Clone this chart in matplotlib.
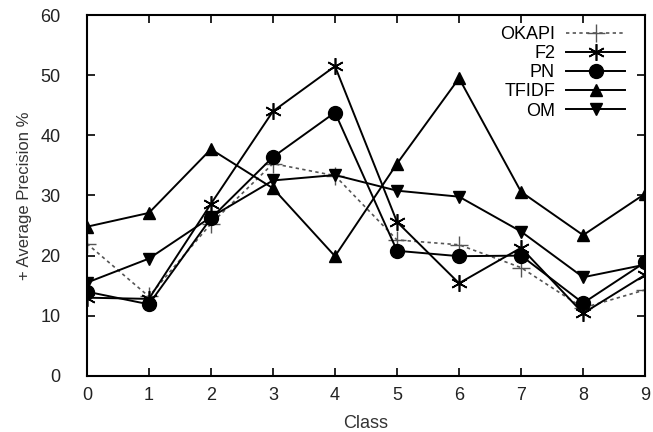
import matplotlib
matplotlib.use("Agg")
import matplotlib.pyplot as plt

plt.rcParams['font.family'] = ['Liberation Sans', 'DejaVu Sans']

classes = list(range(10))
okapi = [22.0, 13.2, 25.3, 35.3, 33.3, 22.6, 21.8, 18.0, 11.3, 14.3]
f2 = [13.0, 12.8, 28.6, 44.0, 51.5, 25.6, 15.4, 21.3, 10.4, 16.8]
pn = [14.0, 11.9, 26.2, 36.4, 43.8, 20.8, 19.9, 20.0, 12.1, 18.9]
tfidf = [24.8, 27.1, 37.7, 31.2, 19.9, 35.3, 49.5, 30.6, 23.4, 30.3]
om = [15.5, 19.5, 26.4, 32.5, 33.4, 30.8, 29.8, 24.0, 16.4, 18.5]

fig, ax = plt.subplots(figsize=(6.53, 4.32), dpi=100)
fig.subplots_adjust(left=0.133, right=0.988, top=0.965, bottom=0.13)

ax.plot(classes, okapi, color='#555555', linestyle=(0, (2, 2)), linewidth=1.2,
        marker='+', markersize=13, markeredgewidth=1.0, label='OKAPI')
ax.plot(classes, f2, color='black', linewidth=1.4,
        marker=(6, 2, 0), markersize=12, markeredgewidth=1.2, label='F2')
ax.plot(classes, pn, color='black', linewidth=1.4,
        marker='o', markersize=10, label='PN')
ax.plot(classes, tfidf, color='black', linewidth=1.4,
        marker='^', markersize=9, label='TFIDF')
ax.plot(classes, om, color='black', linewidth=1.4,
        marker='v', markersize=9, label='OM')

ax.set_xlim(0, 9)
ax.set_ylim(0, 60)
ax.set_xticks(classes)
ax.set_yticks(range(0, 61, 10))
ax.tick_params(direction='in', length=6, width=1.2, top=True, right=True,
               labelsize=13, colors='black', labelcolor='#222222')
ax.tick_params(axis='x', pad=8)
ax.tick_params(axis='y', pad=19)
for s in ax.spines.values():
    s.set_linewidth(1.5)

ax.set_xlabel('Class', fontsize=13, color='#333333', labelpad=8)
ax.set_ylabel('+ Average Precision %', fontsize=12, color='#333333', labelpad=6)

# legend sits close to the top edge, labels on the left of the samples
ax.legend(loc='upper right', bbox_to_anchor=(0.997, 1.02), frameon=False,
          markerfirst=False, fontsize=13, handlelength=3.3, labelspacing=0.12,
          borderaxespad=0.6, handletextpad=0.6)

fig.savefig('out.png', dpi=100)
